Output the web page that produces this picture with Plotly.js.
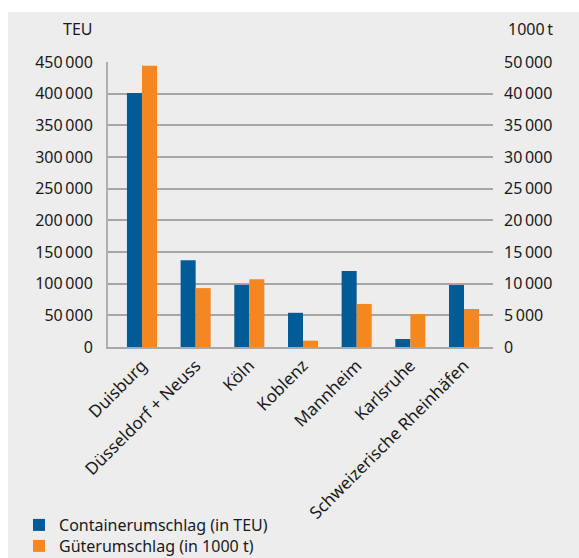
<!DOCTYPE html>
<html><head><meta charset="utf-8">
<script src="https://cdn.plot.ly/plotly-3.0.1.min.js"></script>
<style>
html,body{margin:0;padding:0;background:#fff;}
#chart{position:absolute;left:8px;top:12px;width:571px;height:546px;}
</style></head>
<body><div id="chart"></div>
<script>
const categories = ["Duisburg", "Düsseldorf + Neuss", "Köln", "Koblenz", "Mannheim", "Karlsruhe", "Schweizerische Rheinhäfen"];
const containerTEU = [401000, 137000, 98000, 54000, 120000, 12600, 98000];
const gueter1000t = [44400, 9300, 10700, 1000, 6800, 5200, 6000];
const leftTickVals = [0, 50000, 100000, 150000, 200000, 250000, 300000, 350000, 400000, 450000];
const leftTickText = ["0", "50\u2009000", "100\u2009000", "150\u2009000", "200\u2009000", "250\u2009000", "300\u2009000", "350\u2009000", "400\u2009000", "450\u2009000"];
const rightTickVals = [0, 5000, 10000, 15000, 20000, 25000, 30000, 35000, 40000, 45000];
const rightTickText = ["0", "5\u2009000", "10\u2009000", "15\u2009000", "20\u2009000", "25\u2009000", "30\u2009000", "35\u2009000", "40\u2009000", "50\u2009000"];
const seriesNames = ["Containerumschlag (in TEU)", "Güterumschlag (in 1000 t)"];

const FONT = "Noto Sans, Open Sans, sans-serif";
const data = [
  {type:"bar", x:categories, y:containerTEU, name:seriesNames[0], marker:{color:"#005b97"}, offsetgroup:"a", yaxis:"y", hoverinfo:"none", legend:"legend"},
  {type:"bar", x:categories, y:gueter1000t, name:seriesNames[1], marker:{color:"#f58720"}, offsetgroup:"b", yaxis:"y2", hoverinfo:"none", legend:"legend2"}
];
const legendBase = {xref:"container", yref:"container", x:0.0193, xanchor:"left", yanchor:"middle", bgcolor:"rgba(0,0,0,0)", font:{size:16}, itemwidth:30};
const layout = {
  width:571, height:546,
  paper_bgcolor:"#ededed", plot_bgcolor:"#ededed",
  margin:{l:100, r:86, t:50, b:211, autoexpand:false},
  font:{family:FONT, size:16, color:"#1a1a1a"},
  barmode:"group", bargap:0.44, bargroupgap:0,
  showlegend:true,
  legend:Object.assign({}, legendBase, {y:0.0604}),
  legend2:Object.assign({}, legendBase, {y:0.022}),
  xaxis:{range:[-0.633, 6.54], tickangle:-45, showline:true, linecolor:"#a8a8a8", linewidth:2, ticks:"", showgrid:false, tickfont:{size:17}, automargin:false},
  yaxis:{range:[0,450000], tickvals:leftTickVals, ticktext:leftTickText, showline:true, linecolor:"#b0b0b0", linewidth:2,
         gridcolor:"#a6a6a6", gridwidth:2, zeroline:false, ticks:"", ticklabelstandoff:10, tickfont:{size:16}, automargin:false},
  yaxis2:{range:[0,45000], tickvals:rightTickVals, ticktext:rightTickText, overlaying:"y", side:"right", showgrid:false,
          zeroline:false, showline:false, ticks:"", ticklabelstandoff:10, tickfont:{size:16}, automargin:false},
  annotations:[
    {text:"TEU", xref:"paper", yref:"paper", x:-0.034, y:1.116, xanchor:"right", yanchor:"middle", showarrow:false, font:{size:16}},
    {text:"1000\u2009t", xref:"paper", yref:"paper", x:1.034, y:1.116, xanchor:"left", yanchor:"middle", showarrow:false, font:{size:16}}
  ]
};
Plotly.newPlot("chart", data, layout, {staticPlot:true});
</script></body></html>
